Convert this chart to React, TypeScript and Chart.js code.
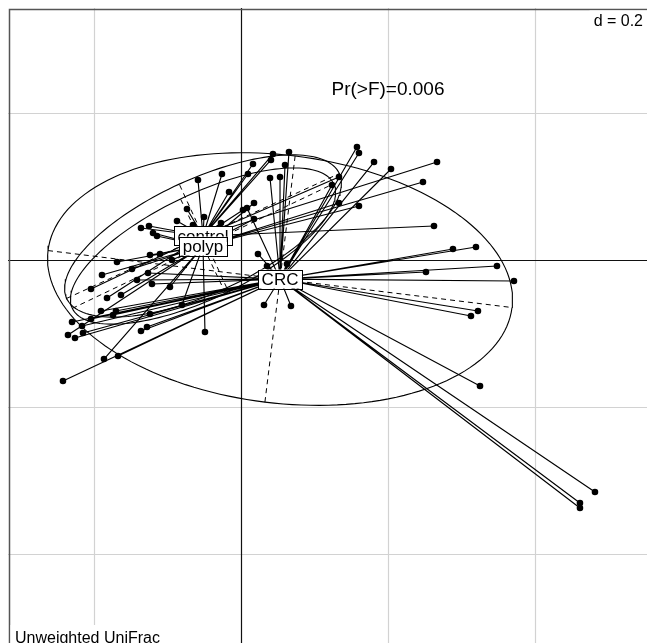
import React, { useEffect, useRef } from "react";
import { Chart, registerables } from "chart.js";

Chart.register(...registerables);

// ---- data (ordination coordinates) ----
const CONTROL_X = [0.0435, 0.0408, 0.0163, -0.0259, 0.0095, -0.0585, -0.0163, -0.0735, 0.0027, -0.0871, -0.0503, -0.0653, -0.0272, -0.1361, -0.1252, -0.2041, -0.1823, 0.2626, 0.2667, 0.1333];
const CONTROL_Y = [0.1442, 0.1361, 0.1306, 0.117, 0.117, 0.1088, 0.0925, 0.0694, 0.068, 0.0531, 0.0585, 0.0476, 0.0503, 0.0435, 0.0463, -0.0395, -0.0517, 0.0463, 0.1333, 0.1129];

const POLYP_X = [0.0177, 0.0177, -0.1197, -0.1143, -0.1238, -0.1102, -0.1687, -0.1891, -0.1483, -0.1633, -0.0966, -0.2354, -0.0803, -0.049, -0.1864, 0.1333, 0.1605, 0.2476, -0.0939];
const POLYP_Y = [0.0776, 0.0558, 0.0367, 0.0327, 0.0068, 0.0082, -0.0027, -0.0204, -0.0122, -0.0476, -0.0367, -0.102, -0.0612, -0.098, -0.1347, 0.0776, 0.0735, 0.1061, 0.0];

const CRC_X = [0.0653, 0.0599, 0.0395, 0.0531, 0.0082, 0.0231, -0.1265, -0.1415, -0.1211, -0.1905, -0.1701, -0.1741, -0.2041, -0.2299, -0.2163, -0.2259, -0.215, -0.1361, -0.1279, -0.1238, -0.1673, -0.2422, 0.0354, 0.0626, 0.0313, 0.068, 0.2884, 0.3197, 0.3483, 0.2517, 0.3714, 0.3224, 0.3129, 0.3252, 0.4816, 0.4612, 0.4612, 0.1578, 0.1605, 0.181, 0.2041, 0.1238];
const CRC_Y = [0.1469, 0.1293, 0.1116, 0.1129, 0.0707, 0.0082, -0.0177, -0.0272, -0.0327, -0.0694, -0.0694, -0.0748, -0.0803, -0.0844, -0.0898, -0.1061, -0.0993, -0.0966, -0.0912, -0.0735, -0.1306, -0.1646, -0.0082, -0.0054, -0.0612, -0.0626, 0.015, 0.0177, -0.0082, -0.0163, -0.0286, -0.0694, -0.0762, -0.1714, -0.3156, -0.3306, -0.3374, 0.1537, 0.1456, 0.1333, 0.1238, 0.102];

const GROUP_LABELS = ["control", "polyp", "CRC"];
const CENTROID_X = [-0.0517, -0.0517, 0.0531];
const CENTROID_Y = [0.0327, 0.019, -0.0259];
const ELLIPSE_A = [0.204, 0.197, 0.318];
const ELLIPSE_B = [0.0776, 0.071, 0.1687];
const ELLIPSE_ANGLE_DEG = [24.6, 25.5, -7.0];

const GRID_X = [-0.2, 0, 0.2, 0.4];
const GRID_Y = [0.2, 0, -0.2, -0.4];
const X_MIN = -0.317;
const X_MAX = 0.5524;
const Y_MIN = -0.5211;
const Y_MAX = 0.3429;
const FRAME_X_MIN = -0.315;
const FRAME_Y_MAX = 0.341;

const PVAL_TEXT = "Pr(>F)=0.006";
const PVAL_POS = [0.2, 0.2245];
const SCALE_TEXT = "d = 0.2";
const SUBTITLE = "Unweighted UniFrac";

const FONT = '"Liberation Sans", Arial, Helvetica, sans-serif';

type P = { x: number; y: number | null };

function starData(xs: number[], ys: number[], cx: number, cy: number): P[] {
  const d: P[] = [];
  xs.forEach((x, i) => {
    d.push({ x, y: ys[i] });
    d.push({ x: cx, y: cy });
    d.push({ x: cx, y: null });
  });
  return d;
}

function ellipseData(g: number): P[] {
  const cx = CENTROID_X[g], cy = CENTROID_Y[g];
  const a = ELLIPSE_A[g], b = ELLIPSE_B[g];
  const th = (ELLIPSE_ANGLE_DEG[g] * Math.PI) / 180;
  const c = Math.cos(th), s = Math.sin(th);
  const d: P[] = [];
  const n = 160;
  for (let i = 0; i <= n; i++) {
    const t = (2 * Math.PI * i) / n;
    const u = a * Math.cos(t), v = b * Math.sin(t);
    d.push({ x: cx + u * c - v * s, y: cy + u * s + v * c });
  }
  return d;
}

function axesData(g: number): P[] {
  const cx = CENTROID_X[g], cy = CENTROID_Y[g];
  const a = ELLIPSE_A[g], b = ELLIPSE_B[g];
  const th = (ELLIPSE_ANGLE_DEG[g] * Math.PI) / 180;
  const c = Math.cos(th), s = Math.sin(th);
  return [
    { x: cx - a * c, y: cy - a * s },
    { x: cx + a * c, y: cy + a * s },
    { x: cx, y: null },
    { x: cx + b * s, y: cy - b * c },
    { x: cx - b * s, y: cy + b * c },
  ];
}

const backgroundPlugin = {
  id: "adeBackground",
  beforeDatasetsDraw(chart: any) {
    const { ctx, chartArea, scales } = chart;
    const xs = scales.x, ys = scales.y;
    ctx.save();
    ctx.strokeStyle = "#d2d2d2";
    ctx.lineWidth = 1.2;
    GRID_X.forEach((v) => {
      if (v === 0) return;
      const p = Math.round(xs.getPixelForValue(v)) + 0.5;
      ctx.beginPath();
      ctx.moveTo(p, chartArea.top);
      ctx.lineTo(p, chartArea.bottom);
      ctx.stroke();
    });
    GRID_Y.forEach((v) => {
      if (v === 0) return;
      const p = Math.round(ys.getPixelForValue(v)) + 0.5;
      ctx.beginPath();
      ctx.moveTo(chartArea.left, p);
      ctx.lineTo(chartArea.right, p);
      ctx.stroke();
    });
    ctx.strokeStyle = "#111";
    ctx.lineWidth = 1.2;
    const x0 = Math.round(xs.getPixelForValue(0)) + 0.5;
    const y0 = Math.round(ys.getPixelForValue(0)) + 0.5;
    ctx.beginPath();
    ctx.moveTo(x0, chartArea.top);
    ctx.lineTo(x0, chartArea.bottom);
    ctx.moveTo(chartArea.left, y0);
    ctx.lineTo(chartArea.right, y0);
    ctx.stroke();
    ctx.restore();
  },
};

function boxLabel(ctx: any, text: string, px: number, py: number) {
  ctx.font = `17px ${FONT}`;
  const w = ctx.measureText(text).width;
  const padX = 3.5;
  const h = 19;
  const x = px - w / 2 - padX;
  const y = py - h / 2;
  ctx.fillStyle = "#fff";
  ctx.fillRect(x, y, w + 2 * padX, h);
  ctx.strokeStyle = "#000";
  ctx.lineWidth = 1;
  ctx.strokeRect(Math.round(x) + 0.5, Math.round(y) + 0.5, Math.round(w + 2 * padX), h);
  ctx.fillStyle = "#000";
  ctx.textAlign = "center";
  ctx.textBaseline = "alphabetic";
  ctx.fillText(text, px, py + 6);
}

const overlayPlugin = {
  id: "adeOverlay",
  afterDatasetsDraw(chart: any) {
    const { ctx, chartArea, scales } = chart;
    const xs = scales.x, ys = scales.y;
    ctx.save();
    // frame (left and top edges)
    const fx = Math.round(xs.getPixelForValue(FRAME_X_MIN)) + 0.5;
    const fy = Math.round(ys.getPixelForValue(FRAME_Y_MAX)) + 0.5;
    ctx.strokeStyle = "#555";
    ctx.lineWidth = 1.5;
    ctx.beginPath();
    ctx.moveTo(fx, chartArea.bottom);
    ctx.lineTo(fx, fy);
    ctx.lineTo(chartArea.right, fy);
    ctx.stroke();

    // group labels
    GROUP_LABELS.forEach((lab, g) => {
      boxLabel(ctx, lab, xs.getPixelForValue(CENTROID_X[g]), ys.getPixelForValue(CENTROID_Y[g]));
    });

    // p-value text
    ctx.font = `19px ${FONT}`;
    ctx.fillStyle = "#000";
    ctx.textAlign = "center";
    ctx.textBaseline = "alphabetic";
    ctx.fillText(PVAL_TEXT, xs.getPixelForValue(PVAL_POS[0]), ys.getPixelForValue(PVAL_POS[1]));

    // scale text (top right)
    ctx.font = `16px ${FONT}`;
    const dw = ctx.measureText(SCALE_TEXT).width;
    const dRight = chartArea.right - 4;
    const dBase = chartArea.top + 18;
    ctx.fillStyle = "#fff";
    ctx.fillRect(dRight - dw - 4, fy + 1, dw + 8, dBase + 5 - fy);
    ctx.fillStyle = "#000";
    ctx.textAlign = "right";
    ctx.fillText(SCALE_TEXT, dRight, dBase);

    // subtitle (bottom left)
    const sw = ctx.measureText(SUBTITLE).width;
    const sLeft = chartArea.left + 7;
    const sBase = chartArea.bottom;
    ctx.fillStyle = "#fff";
    ctx.fillRect(fx + 1, sBase - 18, sLeft - fx + sw + 4, 18);
    ctx.fillStyle = "#000";
    ctx.textAlign = "left";
    ctx.fillText(SUBTITLE, sLeft, sBase);
    ctx.restore();
  },
};

export default function App() {
  const canvasRef = useRef<HTMLCanvasElement | null>(null);

  useEffect(() => {
    if (!canvasRef.current) return;
    const groupsX = [CONTROL_X, POLYP_X, CRC_X];
    const groupsY = [CONTROL_Y, POLYP_Y, CRC_Y];
    const datasets: any[] = [];
    groupsX.forEach((xs, g) => {
      datasets.push({
        label: `star-${GROUP_LABELS[g]}`,
        data: starData(xs, groupsY[g], CENTROID_X[g], CENTROID_Y[g]),
        showLine: true,
        spanGaps: false,
        borderColor: "#000",
        borderWidth: 1.15,
        pointRadius: 0,
        fill: false,
      });
    });
    [0, 1, 2].forEach((g) => {
      datasets.push({
        label: `ellipse-${GROUP_LABELS[g]}`,
        data: ellipseData(g),
        showLine: true,
        borderColor: "#000",
        borderWidth: 1.1,
        pointRadius: 0,
        fill: false,
      });
      datasets.push({
        label: `axes-${GROUP_LABELS[g]}`,
        data: axesData(g),
        showLine: true,
        spanGaps: false,
        borderColor: "#000",
        borderWidth: 1,
        borderDash: [5, 4],
        pointRadius: 0,
        fill: false,
      });
    });
    groupsX.forEach((xs, g) => {
      datasets.push({
        label: GROUP_LABELS[g],
        data: xs.map((x, i) => ({ x, y: groupsY[g][i] })),
        showLine: false,
        pointRadius: 3.3,
        pointBorderWidth: 0,
        pointBackgroundColor: "#000",
        pointBorderColor: "#000",
      });
    });

    const chart = new Chart(canvasRef.current, {
      type: "scatter",
      data: { datasets },
      options: {
        animation: false,
        responsive: false,
        devicePixelRatio: 1,
        layout: { autoPadding: false, padding: { left: 8, top: 8, right: 0, bottom: 0 } },
        plugins: { legend: { display: false }, tooltip: { enabled: false } },
        events: [],
        scales: {
          x: { type: "linear", min: X_MIN, max: X_MAX, display: false },
          y: { type: "linear", min: Y_MIN, max: Y_MAX, display: false },
        },
      },
      plugins: [backgroundPlugin, overlayPlugin],
    });
    return () => chart.destroy();
  }, []);

  return (
    <div style={{ position: "fixed", left: 0, top: 0, width: 647, height: 643, background: "#fff", overflow: "hidden" }}>
      <canvas ref={canvasRef} width={647} height={643} style={{ display: "block" }} />
    </div>
  );
}
